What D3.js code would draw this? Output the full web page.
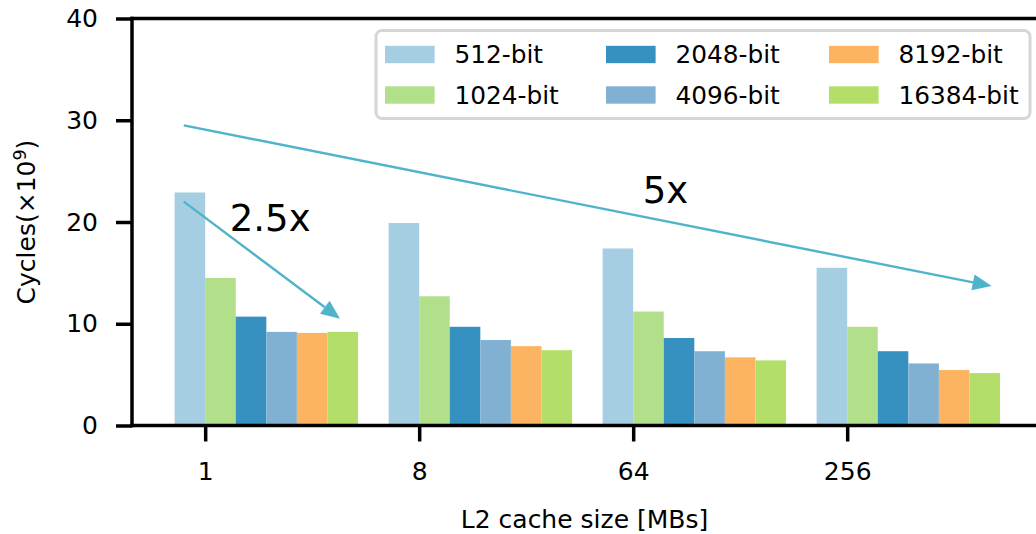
<!DOCTYPE html>
<html>
<head>
<meta charset="utf-8">
<script src="https://cdn.jsdelivr.net/npm/d3@7"></script>
<style>
  html, body { margin: 0; padding: 0; background: #fff; }
  svg { display: block; }
  text { font-family: "DejaVu Sans", sans-serif; fill: #000; }
</style>
</head>
<body>
<svg id="chart" width="1036" height="534"></svg>
<script>
// L2 cache sizes (x groups) and key sizes (series)
const cacheSizes = ["1", "8", "64", "256"];
const keySizes = ["512-bit", "1024-bit", "2048-bit", "4096-bit", "8192-bit", "16384-bit"];
const colors = ["#a6cee3", "#b2df8a", "#3690c0", "#80b1d3", "#fdb462", "#b3de69"];

// Cycles (x10^9), one array per key size, indexed by cache size
const cycles512   = [22.9, 19.9, 17.4, 15.5];
const cycles1024  = [14.5, 12.7, 11.2, 9.7];
const cycles2048  = [10.7, 9.7, 8.6, 7.3];
const cycles4096  = [9.2, 8.4, 7.3, 6.1];
const cycles8192  = [9.1, 7.8, 6.7, 5.45];
const cycles16384 = [9.2, 7.4, 6.4, 5.15];
const seriesValues = [cycles512, cycles1024, cycles2048, cycles4096, cycles8192, cycles16384];

const yTicks = [0, 10, 20, 30, 40];

// Speed-up annotations: [x (group units), y] start and end, label and its anchor
const arrows = [
  { from: [-0.1, 22.0], to: [0.63, 10.5], label: "2.5x", at: [0.115, 19.1] },
  { from: [-0.1, 29.5], to: [3.675, 13.7], label: "5x", at: [2.045, 21.9] }
];

const svg = d3.select("#chart");
const plotL = 132, plotR = 1037, plotT = 18.5, plotB = 425.5;

const x = d3.scaleLinear().domain([-0.342, 3.887]).range([plotL, plotR]);
const y = d3.scaleLinear().domain([0, 40]).range([plotB, plotT]);
const barW = 1 / 7;

// Bars
const bars = [];
seriesValues.forEach((vals, k) => {
  vals.forEach((v, i) => bars.push({ k, i, v }));
});
svg.append("g").selectAll("rect").data(bars).join("rect")
  .attr("x", d => x(d.i + (d.k - 1) * barW))
  .attr("width", d => x(d.i + d.k * barW) - x(d.i + (d.k - 1) * barW))
  .attr("y", d => y(d.v))
  .attr("height", d => y(0) - y(d.v))
  .attr("fill", d => colors[d.k]);

// Axes
const axisFont = "25px";
const xAxis = d3.axisBottom(x)
  .tickValues(d3.range(cacheSizes.length))
  .tickFormat(i => cacheSizes[i])
  .tickSize(16).tickPadding(21);
const gx = svg.append("g").attr("transform", `translate(0,${plotB})`).call(xAxis);
gx.select(".domain").remove();
gx.selectAll(".tick line").attr("stroke", "#000").attr("stroke-width", 3.5);
gx.selectAll(".tick text").attr("font-size", axisFont).attr("font-family", "DejaVu Sans");

const yAxis = d3.axisLeft(y).tickValues(yTicks).tickSize(16).tickPadding(18);
const gy = svg.append("g").attr("transform", `translate(${plotL},0)`).call(yAxis);
gy.select(".domain").remove();
gy.selectAll(".tick line").attr("stroke", "#000").attr("stroke-width", 3.5);
gy.selectAll(".tick text").attr("font-size", axisFont).attr("font-family", "DejaVu Sans");

// Spines (left, bottom, top)
const spines = svg.append("g").attr("stroke", "#000").attr("stroke-width", 3.5).attr("stroke-linecap", "square");
spines.append("line").attr("x1", plotL).attr("x2", plotL).attr("y1", plotT).attr("y2", plotB);
spines.append("line").attr("x1", plotL).attr("x2", plotR).attr("y1", plotB).attr("y2", plotB);
spines.append("line").attr("x1", plotL).attr("x2", plotR).attr("y1", plotT).attr("y2", plotT);

// Axis titles
svg.append("text")
  .attr("x", (plotL + plotR) / 2).attr("y", 528)
  .attr("text-anchor", "middle").attr("font-size", axisFont)
  .text("L2 cache size [MBs]");

const yl = svg.append("text")
  .attr("transform", `translate(35,${(plotT + plotB) / 2}) rotate(-90)`)
  .attr("text-anchor", "middle").attr("font-size", axisFont);
yl.append("tspan").text("Cycles(×10");
yl.append("tspan").attr("dy", -9).attr("font-size", "17.5px").text("9");
yl.append("tspan").attr("dy", 9).text(")");

// Annotation arrows
const arrowColor = "#4fb3c9";
const ann = svg.append("g");
arrows.forEach(a => {
  const x1 = x(a.from[0]), y1 = y(a.from[1]);
  const x2 = x(a.to[0]), y2 = y(a.to[1]);
  const len = Math.hypot(x2 - x1, y2 - y1);
  const ux = (x2 - x1) / len, uy = (y2 - y1) / len;
  const hl = 19, hw = 8;
  const bx = x2 - ux * hl, by = y2 - uy * hl;
  ann.append("line")
    .attr("x1", x1).attr("y1", y1).attr("x2", bx).attr("y2", by)
    .attr("stroke", arrowColor).attr("stroke-width", 2.4);
  ann.append("path")
    .attr("d", `M${x2},${y2}L${bx - uy * hw},${by + ux * hw}L${bx + uy * hw},${by - ux * hw}Z`)
    .attr("fill", arrowColor);
  ann.append("text")
    .attr("x", x(a.at[0])).attr("y", y(a.at[1]))
    .attr("font-size", "37px")
    .text(a.label);
});

// Legend: 3 columns x 2 rows, column-major order
const fs = 24.8;
const legend = svg.append("g");
legend.append("rect")
  .attr("x", 376).attr("y", 30.5).attr("width", 654).attr("height", 88)
  .attr("rx", 6).attr("ry", 6)
  .attr("fill", "#fff").attr("fill-opacity", 0.8)
  .attr("stroke", "#d6d6d6").attr("stroke-width", 3);
const colX = [385, 606, 829];
const rowY = [54.5, 95];
keySizes.forEach((name, k) => {
  const c = Math.floor(k / 2), r = k % 2;
  legend.append("rect")
    .attr("x", colX[c]).attr("y", rowY[r] - 0.35 * fs)
    .attr("width", 2 * fs).attr("height", 0.7 * fs)
    .attr("fill", colors[k]);
  legend.append("text")
    .attr("x", colX[c] + 2.8 * fs).attr("y", rowY[r] + 8.5)
    .attr("font-size", fs + "px")
    .text(name);
});
</script>
</body>
</html>
